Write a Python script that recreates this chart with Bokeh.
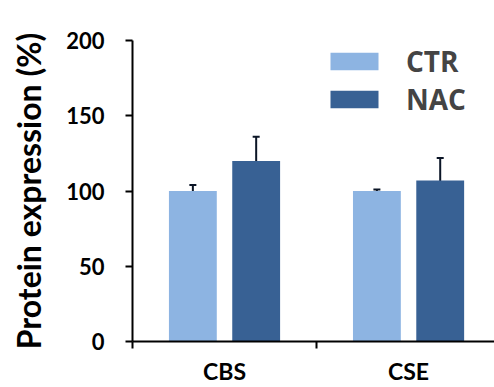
from bokeh.plotting import figure
from bokeh.models import Range1d, FixedTicker, Whisker, TeeHead, ColumnDataSource, Legend, LegendItem
from bokeh.embed import file_html
from bokeh.resources import INLINE

categories = ["CBS", "CSE"]
groups = ["CTR", "NAC"]
ctr_values = [100, 100]
nac_values = [120, 107]
ctr_err = [4, 1]
nac_err = [16, 15]
y_ticks = [0, 50, 100, 150, 200]

colors = {"CTR": "#8DB4E2", "NAC": "#386194"}
FONT = "Lato"
ERR = "#0B1526"

p = figure(width=494, height=387, output_backend="svg", toolbar_location=None,
           x_range=Range1d(0, 1.967), y_range=Range1d(0, 200),
           min_border_left=132, min_border_top=40, min_border_bottom=46, min_border_right=0)
p.outline_line_color = None
p.grid.grid_line_color = None
p.background_fill_color = "white"

centers = [i + 0.5 for i in range(len(categories))]
offset = 0.172
bw = 0.26

renderers = {}
for g, vals, errs, off in [("CTR", ctr_values, ctr_err, -offset), ("NAC", nac_values, nac_err, offset)]:
    xs = [c + off for c in centers]
    src = ColumnDataSource(dict(x=xs, top=vals, upper=[v + e for v, e in zip(vals, errs)],
                                lower=[v - e for v, e in zip(vals, errs)]))
    r = p.vbar(x="x", top="top", width=bw, bottom=0, source=src, fill_color=colors[g], line_color=None)
    renderers[g] = r
    w = Whisker(base="x", upper="upper", lower="lower", source=src, line_color=ERR, line_width=2,
                upper_head=TeeHead(size=7, line_color=ERR, line_width=2),
                lower_head=TeeHead(size=7, line_color=ERR, line_width=2))
    p.add_layout(w)

# axes
p.xaxis.ticker = FixedTicker(ticks=centers, minor_ticks=[0, 1, 2])
p.xaxis.major_label_overrides = {c: lab for c, lab in zip(centers, categories)}
p.xaxis.major_tick_line_color = None
p.xaxis.minor_tick_out = 7
p.xaxis.minor_tick_in = 0
p.xaxis.minor_tick_line_width = 2
p.xaxis.axis_line_width = 2
p.xaxis.major_label_text_font = FONT
p.xaxis.major_label_text_font_style = "bold"
p.xaxis.major_label_text_font_size = "23px"
p.xaxis.major_label_text_color = "black"
p.xaxis.major_label_standoff = 8

p.yaxis.ticker = FixedTicker(ticks=y_ticks, minor_ticks=[])
p.yaxis.major_tick_out = 7
p.yaxis.major_tick_in = 0
p.yaxis.major_tick_line_width = 2
p.yaxis.axis_line_width = 2
p.yaxis.major_label_text_font = FONT
p.yaxis.major_label_text_font_style = "bold"
p.yaxis.major_label_text_font_size = "22px"
p.yaxis.major_label_text_color = "black"
p.yaxis.major_label_standoff = 21
p.yaxis.axis_label = "Protein expression (%)"
p.yaxis.axis_label_text_font = FONT
p.yaxis.axis_label_text_font_style = "bold"
p.yaxis.axis_label_text_font_size = "32px"
p.yaxis.axis_label_text_color = "black"
p.yaxis.axis_label_standoff = 15

legend = Legend(items=[LegendItem(label=g, renderers=[renderers[g]]) for g in groups],
                location=(192, 223), glyph_width=60, glyph_height=22, spacing=0,
                label_standoff=22, padding=0, margin=0, border_line_color=None,
                background_fill_alpha=0, label_text_font="Open Sans", label_text_font_style="bold",
                label_text_font_size="28px", label_height=22)
p.add_layout(legend)

open("out.html", "w").write(file_html(p, INLINE))
